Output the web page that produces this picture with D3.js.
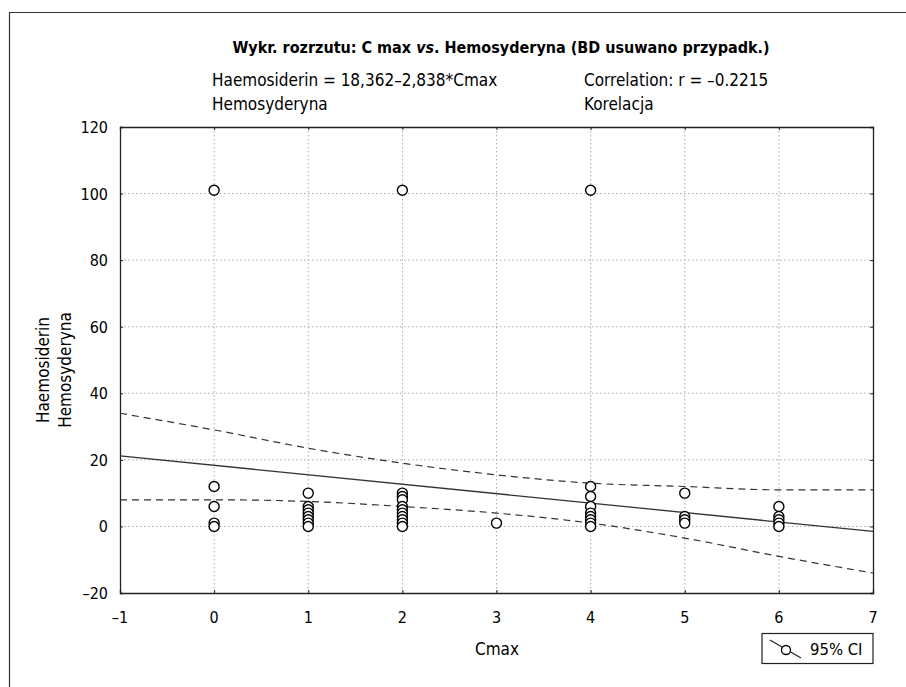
<!DOCTYPE html>
<html>
<head>
<meta charset="utf-8">
<script src="https://cdn.jsdelivr.net/npm/d3@7"></script>
<style>
  body { margin: 0; background: #fff; }
  svg text { font-family: "Liberation Sans Narrow", "Arial Narrow", "DejaVu Sans Condensed", sans-serif; fill: #000; }
  .grid line { stroke: #aaa; stroke-dasharray: 1.5,2.5; }
</style>
</head>
<body>
<svg width="906" height="687"></svg>
<script>
// scatter points (Cmax, Haemosiderin)
var cmax = [0, 0, 0, 0, 0,
  1, 1, 1, 1, 1, 1, 1, 1,
  2, 2, 2, 2, 2, 2, 2, 2, 2, 2, 2,
  3,
  4, 4, 4, 4, 4, 4, 4, 4, 4,
  5, 5, 5, 5,
  6, 6, 6, 6, 6];
var haemo = [101, 12, 6, 1, 0,
  10, 6, 5, 4, 3, 2, 1, 0,
  101, 10, 9, 8, 6, 5, 4, 3, 2, 1, 0,
  1,
  101, 12, 9, 6, 4, 3, 2, 1, 0,
  10, 3, 2, 1,
  6, 3, 2, 1, 0];

// regression line and 95% confidence band
var intercept = 18.362, slope = -2.838;
var ciX = [-1, 0, 1, 2, 3, 4, 5, 6, 7];
var ciUpper = [34, 29, 23.5, 19, 15.5, 13, 12, 11, 11];
var ciLower = [8, 8, 7.5, 6, 4, 1, -3.5, -9, -14];

var xTicks = [-1, 0, 1, 2, 3, 4, 5, 6, 7];
var yTicks = [-20, 0, 20, 40, 60, 80, 100, 120];

var svg = d3.select('svg');
var pLeft = 120, pRight = 873, pTop = 127, pBottom = 593;

var x = d3.scaleLinear().domain([-1, 7]).range([pLeft, pRight]);
var y = d3.scaleLinear().domain([-20, 120]).range([pBottom, pTop]);

function fmt(v) { return String(v).replace('-', '\u2013'); }

// outer frame (left and top edges visible)
svg.append('path')
  .attr('d', 'M9.5,687 V12.5 H906')
  .attr('fill', 'none').attr('stroke', '#333').attr('stroke-width', 1.2);

// grid
var grid = svg.append('g').attr('class', 'grid');
grid.selectAll('line.v').data(xTicks.slice(1, -1)).enter().append('line')
  .attr('x1', d => x(d)).attr('x2', d => x(d))
  .attr('y1', pTop).attr('y2', pBottom);
grid.selectAll('line.h').data(yTicks.slice(1, -1)).enter().append('line')
  .attr('x1', pLeft).attr('x2', pRight)
  .attr('y1', d => y(d)).attr('y2', d => y(d));

// axes with inward ticks
svg.append('g').attr('transform', 'translate(' + pLeft + ',0)')
  .call(d3.axisRight(y).tickValues(yTicks).tickSize(3).tickFormat(''));
svg.append('g').attr('transform', 'translate(' + pRight + ',0)')
  .call(d3.axisLeft(y).tickValues(yTicks).tickSize(3).tickFormat(''));
svg.append('g').attr('transform', 'translate(0,' + pBottom + ')')
  .call(d3.axisTop(x).tickValues(xTicks).tickSize(3).tickFormat(''));
svg.append('g').attr('transform', 'translate(0,' + pTop + ')')
  .call(d3.axisBottom(x).tickValues(xTicks).tickSize(3).tickFormat(''));
svg.selectAll('.domain').attr('stroke', '#222').attr('stroke-width', 1.3);
svg.selectAll('.tick line').attr('stroke', '#222');

// tick labels
svg.append('g').selectAll('text').data(yTicks).enter().append('text')
  .attr('x', 108).attr('y', d => y(d) + 6)
  .attr('text-anchor', 'end').attr('font-size', 16)
  .text(fmt);
svg.append('g').selectAll('text').data(xTicks).enter().append('text')
  .attr('x', d => x(d)).attr('y', 623)
  .attr('text-anchor', 'middle').attr('font-size', 16)
  .text(fmt);

// clip for lines
svg.append('clipPath').attr('id', 'plot')
  .append('rect').attr('x', pLeft).attr('y', pTop)
  .attr('width', pRight - pLeft).attr('height', pBottom - pTop);

var plot = svg.append('g').attr('clip-path', 'url(#plot)');

var band = d3.line().x(d => x(d[0])).y(d => y(d[1])).curve(d3.curveMonotoneX);
[ciUpper, ciLower].forEach(function(s) {
  plot.append('path')
    .datum(ciX.map((v, i) => [v, s[i]]))
    .attr('d', band)
    .attr('fill', 'none').attr('stroke', '#333').attr('stroke-width', 1.2)
    .attr('stroke-dasharray', '7,5');
});

plot.append('line')
  .attr('x1', x(-1)).attr('y1', y(intercept + slope * -1))
  .attr('x2', x(7)).attr('y2', y(intercept + slope * 7))
  .attr('stroke', '#333').attr('stroke-width', 1.3);

// points
svg.append('g').selectAll('circle').data(cmax).enter().append('circle')
  .attr('cx', d => x(d))
  .attr('cy', (d, i) => y(haemo[i]))
  .attr('r', 5)
  .attr('fill', '#fff').attr('stroke', '#000').attr('stroke-width', 1.4);

// titles
svg.append('text').attr('x', 501).attr('y', 53)
  .attr('text-anchor', 'middle').attr('font-size', 16).attr('font-weight', 'bold')
  .html('Wykr. rozrzutu: C max <tspan font-style="italic">vs</tspan>. Hemosyderyna (BD usuwano przypadk.)');
svg.append('text').attr('x', 212).attr('y', 86).attr('font-size', 17)
  .text('Haemosiderin = 18,362\u20132,838*Cmax');
svg.append('text').attr('x', 212).attr('y', 110).attr('font-size', 17)
  .text('Hemosyderyna');
svg.append('text').attr('x', 584).attr('y', 86).attr('font-size', 17)
  .text('Correlation: r = \u20130.2215');
svg.append('text').attr('x', 584).attr('y', 110).attr('font-size', 17)
  .text('Korelacja');

// axis titles
svg.append('text').attr('x', 497).attr('y', 655)
  .attr('text-anchor', 'middle').attr('font-size', 17).text('Cmax');
var yl = svg.append('text').attr('transform', 'translate(49,370) rotate(-90)')
  .attr('text-anchor', 'middle').attr('font-size', 17);
yl.append('tspan').attr('x', 0).attr('dy', 0).text('Haemosiderin');
yl.append('tspan').attr('x', 0).attr('dy', 22).text('Hemosyderyna');

// legend
var lg = svg.append('g');
lg.append('rect').attr('x', 762).attr('y', 633.5).attr('width', 111).attr('height', 30)
  .attr('fill', '#fff').attr('stroke', '#222').attr('stroke-width', 1.2);
lg.append('line').attr('x1', 770).attr('y1', 640).attr('x2', 801).attr('y2', 658)
  .attr('stroke', '#222').attr('stroke-width', 1.2);
lg.append('circle').attr('cx', 786).attr('cy', 650).attr('r', 4.5)
  .attr('fill', '#fff').attr('stroke', '#000').attr('stroke-width', 1.3);
lg.append('text').attr('x', 810).attr('y', 655).attr('font-size', 16.5).text('95% CI');
</script>
</body>
</html>
